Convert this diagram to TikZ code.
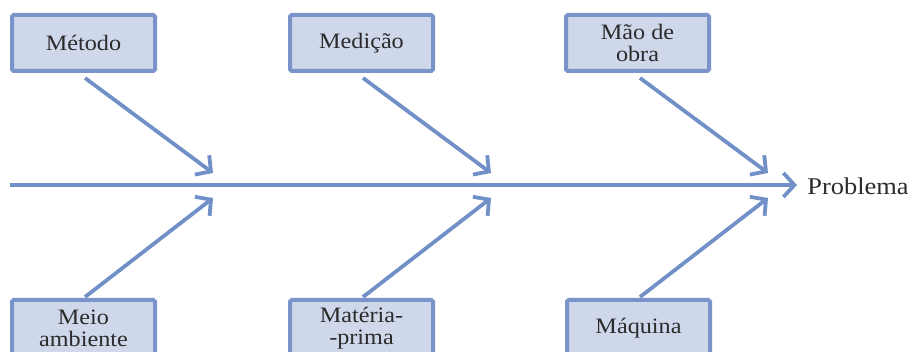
\documentclass[tikz,border=0pt]{standalone}
\usepackage{fontspec}
\setmainfont{Liberation Serif}[FakeStretch=1.1]
\usetikzlibrary{arrows.meta}
\definecolor{linec}{HTML}{7290C8}
\definecolor{boxfill}{HTML}{CFD7EA}
\definecolor{boxdraw}{HTML}{7A93C8}
\definecolor{txt}{HTML}{2B2B2B}
\tikzset{
  cause/.style={draw=boxdraw, fill=boxfill, line width=2pt, minimum width=71.5pt,
    minimum height=28pt, inner sep=2pt, align=center, text=txt,
    font=\fontsize{11pt}{11pt}\selectfont, rounded corners=0.8pt},
  bone/.style={draw=linec, line width=1.9pt, -{Straight Barb[length=5.5pt,width=12pt,line width=1.9pt]}},
}
\begin{document}
\begin{tikzpicture}[x=0.5pt,y=-0.5pt]
\useasboundingbox (0,0) rectangle (911,352);
% top causes
\node[cause] (metodo) at (83.5,43) {Método};
\node[cause] (medicao) at (361.5,43) {Medição};
\node[cause] (mao) at (637.5,43) {Mão de\\obra};
% bottom causes
\node[cause] (meio) at (83.5,328) {Meio\\ambiente};
\node[cause] (materia) at (361.5,328) {Matéria-\\-prima};
\node[cause] (maquina) at (638.5,328) {Máquina};
% spine
\coordinate (s0) at (10,185);
\coordinate (s1) at (797,185);
\node[anchor=west, inner sep=0pt, text=txt, font=\fontsize{12pt}{12pt}\selectfont] (prob) at (807,186) {Problema};
\draw[bone] (s0) -- (s1);
% coordinates
\coordinate (m1s) at (85,78);  \coordinate (m1e) at (213,173);
\coordinate (m2s) at (363,78); \coordinate (m2e) at (491,173);
\coordinate (m3s) at (640,78); \coordinate (m3e) at (768,173);
\coordinate (b1s) at (85,297);  \coordinate (b1e) at (213,198);
\coordinate (b2s) at (363,297); \coordinate (b2e) at (491,198);
\coordinate (b3s) at (640,297); \coordinate (b3e) at (768,198);
\draw[bone] (m1s) -- (m1e);
\draw[bone] (m2s) -- (m2e);
\draw[bone] (m3s) -- (m3e);
\draw[bone] (b1s) -- (b1e);
\draw[bone] (b2s) -- (b2e);
\draw[bone] (b3s) -- (b3e);
\end{tikzpicture}
\end{document}
